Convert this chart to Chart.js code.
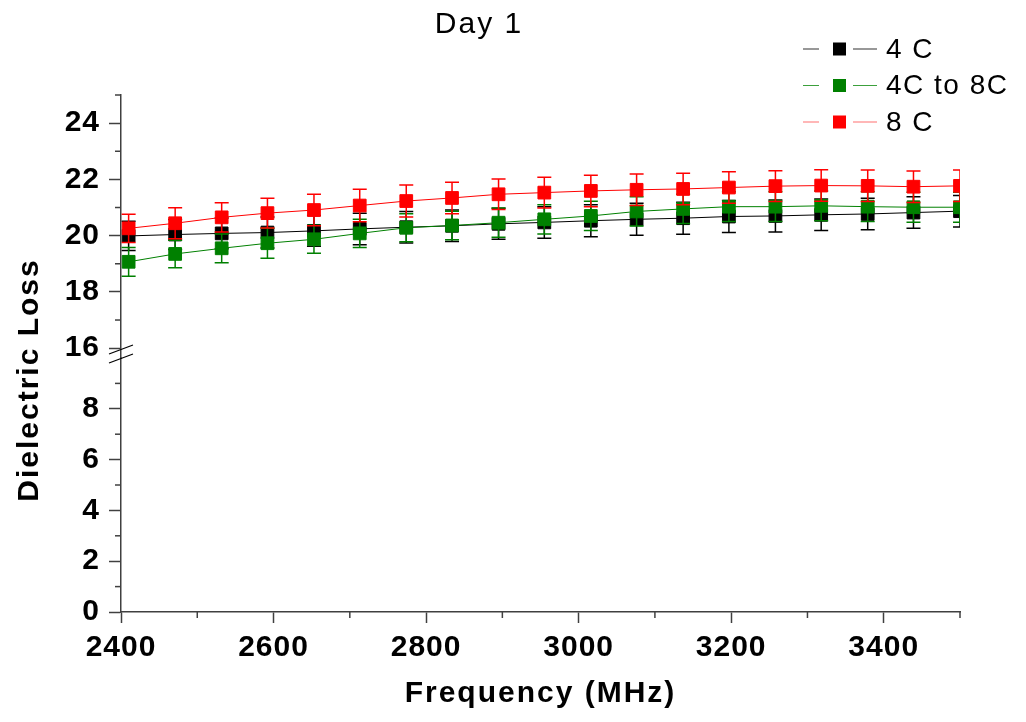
<!DOCTYPE html>
<html>
<head>
<meta charset="utf-8">
<script src="https://cdn.jsdelivr.net/npm/chart.js@4"></script>
<style>
  body { margin: 0; background: #fff; }
  canvas { display: block; }
</style>
</head>
<body>
<canvas id="myChart" width="1026" height="722"></canvas>
<script>
// values
var frequency = [2410, 2471, 2532, 2592, 2653, 2713, 2774, 2834, 2895, 2955, 3016, 3076, 3137, 3197, 3258, 3318, 3379, 3439, 3500];
var loss4C   = [19.99, 20.04, 20.08, 20.11, 20.17, 20.24, 20.30, 20.35, 20.42, 20.47, 20.53, 20.58, 20.62, 20.68, 20.70, 20.74, 20.77, 20.82, 20.87];
var err4C    = [0.52, 0.53, 0.55, 0.55, 0.55, 0.56, 0.56, 0.56, 0.55, 0.56, 0.57, 0.57, 0.57, 0.57, 0.57, 0.56, 0.56, 0.56, 0.56];
var loss4to8 = [19.07, 19.35, 19.55, 19.73, 19.87, 20.08, 20.28, 20.36, 20.46, 20.58, 20.70, 20.86, 20.95, 21.03, 21.03, 21.06, 21.03, 21.01, 21.01];
var err4to8  = [0.51, 0.49, 0.51, 0.53, 0.50, 0.50, 0.50, 0.51, 0.52, 0.52, 0.52, 0.52, 0.52, 0.53, 0.53, 0.53, 0.53, 0.53, 0.53];
var loss8C   = [20.26, 20.44, 20.65, 20.80, 20.91, 21.07, 21.23, 21.34, 21.47, 21.53, 21.59, 21.63, 21.66, 21.71, 21.76, 21.78, 21.77, 21.74, 21.77];
var err8C    = [0.50, 0.55, 0.52, 0.53, 0.56, 0.58, 0.57, 0.56, 0.54, 0.55, 0.56, 0.56, 0.56, 0.56, 0.55, 0.56, 0.56, 0.56, 0.56];

var seriesNames  = ['4 C', '4C to 8C', '8 C'];
var seriesColors = ['#000000', '#008000', '#ff0000'];
var legendLineColors = ['#333333', '#3ca03c', '#ff7070'];

var xTickLabels    = [2400, 2600, 2800, 3000, 3200, 3400];
var lowTicks       = [0, 1, 2, 3, 4, 5, 6, 7, 8, 9];
var lowTickLabels  = [0, 2, 4, 6, 8];
var highTicks      = [16, 17, 18, 19, 20, 21, 22, 23, 24, 25];
var highTickLabels = [16, 18, 20, 22, 24];

var FONT = 'Arial, "Liberation Sans", sans-serif';
var AXIS = '#404040';

function points(ys) {
  return frequency.map(function (f, i) { return { x: f, y: ys[i] }; });
}

function makeSet(i, ys, errs) {
  return {
    label: seriesNames[i],
    data: points(ys),
    errors: errs,
    yAxisID: 'yHigh',
    borderColor: seriesColors[i],
    backgroundColor: seriesColors[i],
    borderWidth: 1,
    pointStyle: 'rect',
    pointRadius: 9,
    pointBorderWidth: 1,
    tension: 0,
    order: 3 - i
  };
}

function tickColor(labels) {
  return function (c) {
    return (c.tick && labels.indexOf(c.tick.value) >= 0) ? AXIS : 'rgba(0,0,0,0)';
  };
}

var extras = {
  id: 'extras',
  beforeDraw: function (chart) {
    chart.ctx.letterSpacing = '1px';
  },
  beforeDatasetDraw: function (chart, args) {
    var ds = chart.data.datasets[args.index];
    var y = chart.scales.yHigh;
    var a = chart.chartArea;
    var ctx = chart.ctx;
    ctx.save();
    ctx.beginPath();
    ctx.rect(a.left, a.top, a.right - a.left, a.bottom - a.top);
    ctx.clip();
    ctx.strokeStyle = ds.borderColor;
    ctx.lineWidth = 1.5;
    args.meta.data.forEach(function (pt, i) {
      var v = ds.data[i].y, e = ds.errors[i];
      var top = y.getPixelForValue(v + e), bot = y.getPixelForValue(v - e);
      ctx.beginPath();
      ctx.moveTo(pt.x, top); ctx.lineTo(pt.x, bot);
      ctx.moveTo(pt.x - 7, top); ctx.lineTo(pt.x + 7, top);
      ctx.moveTo(pt.x - 7, bot); ctx.lineTo(pt.x + 7, bot);
      ctx.stroke();
    });
    ctx.restore();
  },
  afterDraw: function (chart) {
    var ctx = chart.ctx;
    var a = chart.chartArea;
    ctx.save();
    ctx.strokeStyle = AXIS;
    ctx.lineWidth = 1.5;

    // minor ticks
    var xs = chart.scales.x;
    xs.ticks.forEach(function (t) {
      if (xTickLabels.indexOf(t.value) >= 0) return;
      var px = xs.getPixelForValue(t.value);
      ctx.beginPath(); ctx.moveTo(px, a.bottom); ctx.lineTo(px, a.bottom + 6); ctx.stroke();
    });
    [['yLow', lowTickLabels], ['yHigh', highTickLabels]].forEach(function (p) {
      var s = chart.scales[p[0]];
      s.ticks.forEach(function (t) {
        if (p[1].indexOf(t.value) >= 0) return;
        var py = s.getPixelForValue(t.value);
        ctx.beginPath(); ctx.moveTo(a.left - 6, py); ctx.lineTo(a.left, py); ctx.stroke();
      });
    });

    // axis break marks
    var yb = chart.scales.yLow.top;
    ctx.strokeStyle = '#000';
    ctx.lineWidth = 1.2;
    ctx.beginPath();
    ctx.moveTo(a.left - 12, yb - 4); ctx.lineTo(a.left + 12, yb - 13);
    ctx.moveTo(a.left - 12, yb + 5); ctx.lineTo(a.left + 12, yb - 4);
    ctx.stroke();

    // texts
    ctx.fillStyle = '#000';
    ctx.letterSpacing = '2px';
    ctx.textAlign = 'center';
    ctx.textBaseline = 'middle';
    ctx.font = '30px ' + FONT;
    ctx.fillText('Day 1', 479, 25);

    ctx.font = 'bold 30px ' + FONT;
    ctx.fillText('Frequency (MHz)', (a.left + a.right) / 2, 694);

    ctx.save();
    ctx.translate(30, 380);
    ctx.rotate(-Math.PI / 2);
    ctx.fillText('Dielectric Loss', 0, 0);
    ctx.restore();

    // legend
    ctx.textAlign = 'left';
    ctx.font = '28px ' + FONT;
    ctx.letterSpacing = '1.5px';
    seriesNames.forEach(function (name, i) {
      var cy = 49 + i * 36.5;
      ctx.strokeStyle = legendLineColors[i];
      ctx.lineWidth = 1.2;
      ctx.beginPath();
      ctx.moveTo(803, cy); ctx.lineTo(819, cy);
      ctx.moveTo(853, cy); ctx.lineTo(877, cy);
      ctx.stroke();
      ctx.fillStyle = seriesColors[i];
      ctx.fillRect(833, cy - 6.5, 13, 13);
      ctx.fillStyle = '#000';
      ctx.fillText(name, 886, cy + 1);
    });
    ctx.restore();
  }
};

function fixedTicks(list) {
  return function (s) {
    s.ticks = list.map(function (v) { return { value: v }; });
  };
}

var ctx = document.getElementById('myChart').getContext('2d');
var myChart = new Chart(ctx, {
  type: 'line',
  data: {
    datasets: [
      makeSet(0, loss4C, err4C),
      makeSet(1, loss4to8, err4to8),
      makeSet(2, loss8C, err8C)
    ]
  },
  options: {
    responsive: false,
    animation: false,
    layout: { padding: { top: 95, right: 66, bottom: 0, left: 0 } },
    plugins: {
      legend: { display: false },
      title: { display: false },
      tooltip: { enabled: false }
    },
    scales: {
      x: {
        type: 'linear',
        position: 'bottom',
        min: 2400,
        max: 3500,
        ticks: {
          stepSize: 100,
          autoSkip: false,
          maxRotation: 0,
          padding: 7,
          color: '#000',
          font: { family: FONT, size: 30, weight: 'bold' },
          callback: function (v) { return xTickLabels.indexOf(v) >= 0 ? String(v) : ''; }
        },
        grid: { drawOnChartArea: false, tickLength: 11, tickWidth: 1.5, tickColor: tickColor(xTickLabels) },
        border: { color: AXIS, width: 1.5 },
        afterFit: function (s) { s.height = 110; }
      },
      yLow: {
        type: 'linear',
        position: 'left',
        stack: 'yaxis',
        stackWeight: 254,
        min: 0,
        max: 10,
        afterBuildTicks: fixedTicks(lowTicks),
        ticks: {
          autoSkip: false,
          padding: 9,
          color: '#000',
          font: { family: FONT, size: 30, weight: 'bold' },
          callback: function (v) { return lowTickLabels.indexOf(v) >= 0 ? String(v) : ''; }
        },
        grid: { drawOnChartArea: false, tickLength: 12, tickWidth: 1.5, tickColor: tickColor(lowTickLabels) },
        border: { color: AXIS, width: 1.5 },
        afterFit: function (s) { s.width = 121; }
      },
      yHigh: {
        type: 'linear',
        position: 'left',
        stack: 'yaxis',
        stackWeight: 263,
        min: 15.65,
        max: 25,
        afterBuildTicks: fixedTicks(highTicks),
        ticks: {
          autoSkip: false,
          padding: 9,
          color: '#000',
          font: { family: FONT, size: 30, weight: 'bold' },
          callback: function (v) { return highTickLabels.indexOf(v) >= 0 ? String(v) : ''; }
        },
        grid: { drawOnChartArea: false, tickLength: 12, tickWidth: 1.5, tickColor: tickColor(highTickLabels) },
        border: { color: AXIS, width: 1.5 },
        afterFit: function (s) { s.width = 121; }
      }
    }
  },
  plugins: [extras]
});
</script>
</body>
</html>
